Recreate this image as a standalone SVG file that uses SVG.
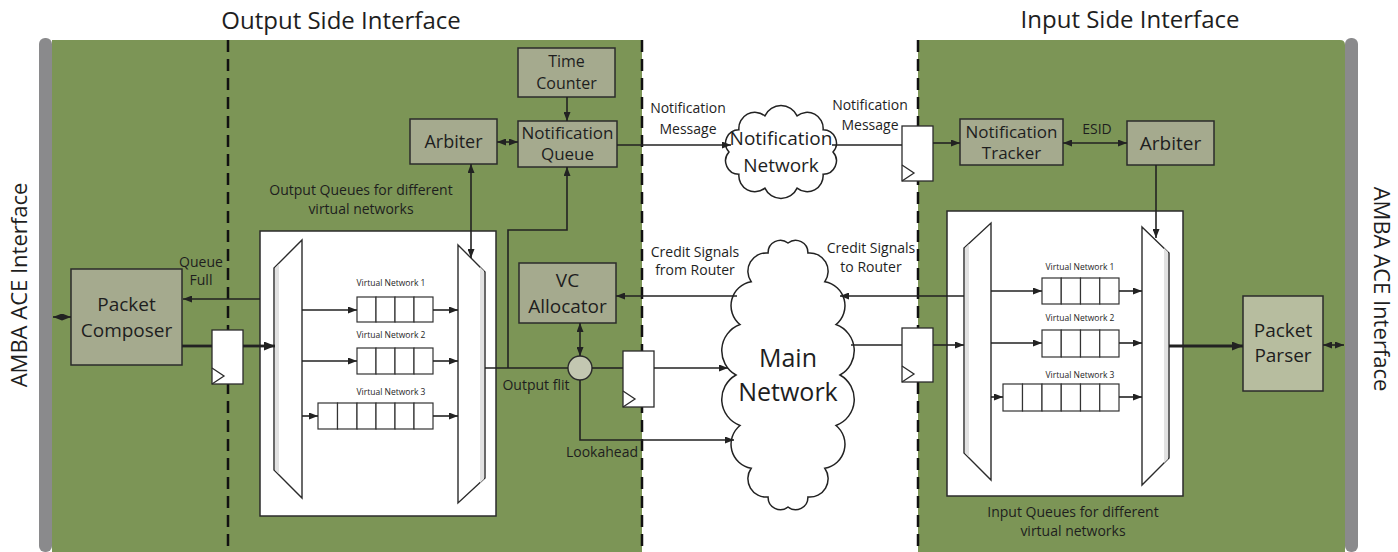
<svg xmlns="http://www.w3.org/2000/svg" width="1398" height="552" viewBox="0 0 1398 552">
  <defs>
    <style>
      text { font-family: "Open Sans", "Noto Sans", "DejaVu Sans", sans-serif; fill: #1e1e1e; }
      .title { font-size: 24px; text-anchor: middle; }
      .side { font-size: 22px; text-anchor: middle; }
      .blk { fill: #a5aa8e; stroke: #2b2b2b; stroke-width: 1.5; }
      .blk2 { fill: #b7bd9f; stroke: #2b2b2b; stroke-width: 1.5; }
      .blk-t { font-size: 17px; text-anchor: middle; }
      .big-t { font-size: 19px; text-anchor: middle; }
      .lbl { font-size: 14px; text-anchor: middle; }
      .vn { font-size: 8.5px; text-anchor: middle; }
      .panel { fill: #ffffff; stroke: #2b2b2b; stroke-width: 1.5; }
      .cell { fill: #ffffff; stroke: #333333; stroke-width: 1.2; }
      .mux { fill: #ffffff; stroke: #2b2b2b; stroke-width: 1.4; }
      .shade { fill: #e2e2e2; stroke: none; }
      .reg { fill: #ffffff; stroke: #2b2b2b; stroke-width: 1.3; }
      .clk { fill: none; stroke: #2b2b2b; stroke-width: 1.3; }
      .cloud { fill: #ffffff; stroke: #222222; stroke-width: 1.5; }
      .w { fill: none; stroke: #222222; stroke-width: 1.6; }
      .wb { fill: none; stroke: #222222; stroke-width: 2.8; }
      .dash { stroke: #111111; stroke-width: 2.5; stroke-dasharray: 12 7; }
      .bar { fill: #8a8a8c; }
      .zone { fill: #7c9556; }
    </style>
    <marker id="ah" viewBox="0 0 9 7" refX="9" refY="3.5" markerWidth="9" markerHeight="7" markerUnits="userSpaceOnUse" orient="auto-start-reverse">
      <path d="M0,0 L9,3.5 L0,7 z" fill="#222222"/>
    </marker>
    <marker id="ahb" viewBox="0 0 11 9" refX="11" refY="4.5" markerWidth="11" markerHeight="9" markerUnits="userSpaceOnUse" orient="auto-start-reverse">
      <path d="M0,0 L11,4.5 L0,9 z" fill="#222222"/>
    </marker>
  </defs>

  <!-- background zones -->
  <g id="zones">
    <rect class="zone" x="52" y="40" width="590" height="512"/>
    <path class="zone" d="M918,40 H1340 Q1345,40 1345,45 V552 H918 Z"/>
    <rect class="bar" x="39" y="38" width="13" height="514" rx="6"/>
    <rect class="bar" x="1345" y="38" width="13" height="514" rx="6"/>
    <line class="dash" x1="228" y1="40" x2="228" y2="552"/>
    <line class="dash" x1="642" y1="40" x2="642" y2="552"/>
    <line class="dash" x1="918" y1="40" x2="918" y2="552"/>
  </g>

  <!-- headings -->
  <g id="headings">
    <text class="title" x="341" y="29">Output Side Interface</text>
    <text class="title" x="1130" y="28">Input Side Interface</text>
    <text class="side" transform="translate(27,285) rotate(-90)">AMBA ACE Interface</text>
    <text class="side" transform="translate(1374,289) rotate(90)">AMBA ACE Interface</text>
  </g>

  <!-- output side queues -->
  <g id="out-queues">
    <rect class="panel" x="260" y="231" width="236" height="285"/>
    <polygon class="mux" points="302,240 302,498 274,470 274,268"/>
    <polygon class="shade" points="275,268 279,264 279,474 275,470"/>
    <polygon class="mux" points="458,245 485,272 485,478 458,503"/>
    <polygon class="shade" points="480,267 484,271 484,479 480,483"/>
    <text class="vn" x="391" y="286">Virtual Network 1</text>
    <g>
      <rect class="cell" x="357" y="297" width="19" height="25"/>
      <rect class="cell" x="376" y="297" width="19" height="25"/>
      <rect class="cell" x="395" y="297" width="19" height="25"/>
      <rect class="cell" x="414" y="297" width="19" height="25"/>
    </g>
    <text class="vn" x="391" y="338">Virtual Network 2</text>
    <g>
      <rect class="cell" x="357" y="348" width="19" height="26"/>
      <rect class="cell" x="376" y="348" width="19" height="26"/>
      <rect class="cell" x="395" y="348" width="19" height="26"/>
      <rect class="cell" x="414" y="348" width="19" height="26"/>
    </g>
    <text class="vn" x="391" y="395">Virtual Network 3</text>
    <g>
      <rect class="cell" x="318" y="403" width="19.5" height="26"/>
      <rect class="cell" x="337.5" y="403" width="19.5" height="26"/>
      <rect class="cell" x="357" y="403" width="19" height="26"/>
      <rect class="cell" x="376" y="403" width="19" height="26"/>
      <rect class="cell" x="395" y="403" width="19" height="26"/>
      <rect class="cell" x="414" y="403" width="19" height="26"/>
    </g>
    <text class="lbl" x="361" y="195">Output Queues for different</text>
    <text class="lbl" x="361" y="214">virtual networks</text>
  </g>

  <!-- input side queues -->
  <g id="in-queues">
    <rect class="panel" x="947" y="211" width="236" height="285"/>
    <polygon class="mux" points="991,223 991,480 964,453 964,248"/>
    <polygon class="shade" points="965,248 969,244 969,457 965,453"/>
    <polygon class="mux" points="1142,227 1169,253 1169,458 1142,485"/>
    <polygon class="shade" points="1164,248 1168,252 1168,459 1164,463"/>
    <text class="vn" x="1080" y="270">Virtual Network 1</text>
    <g>
      <rect class="cell" x="1042" y="278" width="19.25" height="26"/>
      <rect class="cell" x="1061.25" y="278" width="19.25" height="26"/>
      <rect class="cell" x="1080.5" y="278" width="19.25" height="26"/>
      <rect class="cell" x="1099.75" y="278" width="19.25" height="26"/>
    </g>
    <text class="vn" x="1080" y="321">Virtual Network 2</text>
    <g>
      <rect class="cell" x="1042" y="330" width="19.25" height="27"/>
      <rect class="cell" x="1061.25" y="330" width="19.25" height="27"/>
      <rect class="cell" x="1080.5" y="330" width="19.25" height="27"/>
      <rect class="cell" x="1099.75" y="330" width="19.25" height="27"/>
    </g>
    <text class="vn" x="1080" y="378">Virtual Network 3</text>
    <g>
      <rect class="cell" x="1003" y="384" width="19.5" height="27"/>
      <rect class="cell" x="1022.5" y="384" width="19.5" height="27"/>
      <rect class="cell" x="1042" y="384" width="19.25" height="27"/>
      <rect class="cell" x="1061.25" y="384" width="19.25" height="27"/>
      <rect class="cell" x="1080.5" y="384" width="19.25" height="27"/>
      <rect class="cell" x="1099.75" y="384" width="19.25" height="27"/>
    </g>
    <text class="lbl" x="1073" y="517">Input Queues for different</text>
    <text class="lbl" x="1073" y="536">virtual networks</text>
  </g>

  <!-- blocks -->
  <g id="packet-composer">
    <rect class="blk" x="71" y="269" width="111" height="96"/>
    <text class="big-t" x="126.5" y="311">Packet</text>
    <text class="big-t" x="126.5" y="337">Composer</text>
  </g>
  <g id="time-counter">
    <rect class="blk" x="518" y="48" width="97" height="49"/>
    <text class="lbl" style="font-size:16px" x="566.5" y="67">Time</text>
    <text class="lbl" style="font-size:16px" x="566.5" y="89">Counter</text>
  </g>
  <g id="notification-queue">
    <rect class="blk" x="518" y="121" width="99" height="46"/>
    <text class="blk-t" x="567.5" y="139">Notification</text>
    <text class="blk-t" x="567.5" y="160">Queue</text>
  </g>
  <g id="arbiter-out">
    <rect class="blk" x="410" y="119" width="87" height="45"/>
    <text class="blk-t" style="font-size:18px" x="453.5" y="148">Arbiter</text>
  </g>
  <g id="vc-allocator">
    <rect class="blk" x="519" y="263" width="97" height="60"/>
    <text class="big-t" x="567.5" y="287">VC</text>
    <text class="big-t" x="567.5" y="313">Allocator</text>
  </g>
  <g id="merge">
    <circle cx="580" cy="368" r="12" fill="#c3c7b1" stroke="#2b2b2b" stroke-width="1.4"/>
  </g>
  <g id="notification-tracker">
    <rect class="blk" x="960" y="119" width="103" height="46"/>
    <text class="blk-t" x="1011.5" y="138">Notification</text>
    <text class="blk-t" x="1011.5" y="159">Tracker</text>
  </g>
  <g id="arbiter-in">
    <rect class="blk" x="1127" y="121" width="87" height="44"/>
    <text class="blk-t" style="font-size:19px" x="1170.5" y="150">Arbiter</text>
  </g>
  <g id="packet-parser">
    <rect class="blk2" x="1243" y="296" width="80" height="95"/>
    <text class="big-t" x="1283" y="337">Packet</text>
    <text class="big-t" x="1283" y="362">Parser</text>
  </g>

  <!-- pipeline registers -->
  <g id="reg-composer">
    <rect class="reg" x="212" y="330" width="31" height="54"/>
    <polyline class="clk" points="212,368 224,376 212,384"/>
  </g>
  <g id="reg-out">
    <rect class="reg" x="623" y="351" width="31" height="56"/>
    <polyline class="clk" points="623,391 635,399 623,407"/>
  </g>
  <g id="reg-in">
    <rect class="reg" x="902" y="328" width="31" height="54"/>
    <polyline class="clk" points="902,366 914,374 902,382"/>
  </g>
  <g id="reg-notify">
    <rect class="reg" x="902" y="126" width="31" height="55"/>
    <polyline class="clk" points="902,165 914,173 902,181"/>
  </g>

  <!-- networks -->
  <g id="notification-network">
    <path class="cloud" d="M833,152 A13.4,13.4 0 0 1 823.1,174.3 A16,16 0 0 1 797.1,188.1 A17.7,17.7 0 0 1 764.9,188.1 A16,16 0 0 1 738.9,174.3 A13.4,13.4 0 0 1 729,152 A13.4,13.4 0 0 1 738.9,129.7 A16,16 0 0 1 764.9,115.9 A17.7,17.7 0 0 1 797.1,115.9 A16,16 0 0 1 823.1,129.7 A13.4,13.4 0 0 1 833,152 Z"/>
    <text class="big-t" x="781" y="145">Notification</text>
    <text class="big-t" x="781" y="172">Network</text>
  </g>
  <g id="main-network">
    <path class="cloud" d="M840,375 A27.9,27.9 0 0 1 836,425.5 A24.3,24.3 0 0 1 824.8,468.3 A18.3,18.3 0 0 1 807.9,497 A12.3,12.3 0 0 1 788,507 A12.3,12.3 0 0 1 768.1,497 A18.3,18.3 0 0 1 751.2,468.3 A24.3,24.3 0 0 1 740,425.5 A27.9,27.9 0 0 1 736,375 A27.9,27.9 0 0 1 740,324.5 A24.3,24.3 0 0 1 751.2,281.7 A18.3,18.3 0 0 1 768.1,253 A12.3,12.3 0 0 1 788,243 A12.3,12.3 0 0 1 807.9,253 A18.3,18.3 0 0 1 824.8,281.7 A24.3,24.3 0 0 1 836,324.5 A27.9,27.9 0 0 1 840,375 Z"/>
    <text class="big-t" style="font-size:25px" x="788" y="367">Main</text>
    <text class="big-t" style="font-size:25px" x="788" y="401">Network</text>
  </g>

  <!-- connectors -->
  <g id="connectors">
    <!-- AMBA <-> composer / parser -->
    <line class="w" x1="53" y1="317" x2="71" y2="317" marker-start="url(#ah)" marker-end="url(#ah)"/>
    <line class="w" x1="1323" y1="345" x2="1344" y2="345" marker-start="url(#ah)" marker-end="url(#ah)"/>
    <!-- queue full -->
    <line class="w" x1="260" y1="299" x2="183" y2="299" marker-end="url(#ah)"/>
    <!-- composer -> register -> demux -->
    <line class="wb" x1="182" y1="346" x2="212" y2="346"/>
    <line class="wb" x1="243" y1="346" x2="275" y2="346" marker-end="url(#ahb)"/>
    <!-- output demux to queues -->
    <line class="w" x1="302" y1="310" x2="357" y2="310" marker-end="url(#ah)"/>
    <line class="w" x1="302" y1="361" x2="357" y2="361" marker-end="url(#ah)"/>
    <line class="w" x1="302" y1="416" x2="318" y2="416" marker-end="url(#ah)"/>
    <line class="w" x1="433" y1="310" x2="458" y2="310" marker-end="url(#ah)"/>
    <line class="w" x1="433" y1="361" x2="458" y2="361" marker-end="url(#ah)"/>
    <line class="w" x1="433" y1="416" x2="458" y2="416" marker-end="url(#ah)"/>
    <!-- arbiter / notification queue -->
    <line class="w" x1="497" y1="142" x2="518" y2="142" marker-start="url(#ah)" marker-end="url(#ah)"/>
    <line class="w" x1="567" y1="97" x2="567" y2="121" marker-end="url(#ah)"/>
    <line class="w" x1="471" y1="164" x2="471" y2="258" marker-start="url(#ah)" marker-end="url(#ah)"/>
    <!-- output flit path -->
    <line class="w" x1="485" y1="368" x2="568" y2="368"/>
    <polyline class="w" points="508,368 508,230 567,230 567,167" marker-end="url(#ah)"/>
    <line class="w" x1="580" y1="323" x2="580" y2="356" marker-start="url(#ah)" marker-end="url(#ah)"/>
    <line class="w" x1="592" y1="368" x2="623" y2="368"/>
    <line class="w" x1="654" y1="368" x2="728" y2="368" marker-end="url(#ah)"/>
    <polyline class="w" points="580,380 580,440 734,440" marker-end="url(#ah)"/>
    <!-- credits -->
    <line class="w" x1="737" y1="296" x2="616" y2="296" marker-end="url(#ah)"/>
    <line class="w" x1="964" y1="296" x2="840" y2="296" marker-end="url(#ah)"/>
    <!-- main network -> input side -->
    <line class="w" x1="851" y1="345" x2="902" y2="345"/>
    <line class="w" x1="933" y1="345" x2="964" y2="345" marker-end="url(#ah)"/>
    <!-- input demux to queues -->
    <line class="w" x1="991" y1="291" x2="1042" y2="291" marker-end="url(#ah)"/>
    <line class="w" x1="991" y1="343" x2="1042" y2="343" marker-end="url(#ah)"/>
    <line class="w" x1="991" y1="397" x2="1003" y2="397" marker-end="url(#ah)"/>
    <line class="w" x1="1119" y1="291" x2="1142" y2="291" marker-end="url(#ah)"/>
    <line class="w" x1="1119" y1="343" x2="1142" y2="343" marker-end="url(#ah)"/>
    <line class="w" x1="1119" y1="397" x2="1142" y2="397" marker-end="url(#ah)"/>
    <line class="wb" x1="1169" y1="346" x2="1243" y2="346" marker-end="url(#ahb)"/>
    <!-- notification path -->
    <line class="w" x1="617" y1="145" x2="731" y2="145" marker-end="url(#ah)"/>
    <line class="w" x1="832" y1="145" x2="902" y2="145"/>
    <line class="w" x1="933" y1="143" x2="960" y2="143" marker-end="url(#ah)"/>
    <line class="w" x1="1063" y1="143" x2="1127" y2="143" marker-start="url(#ah)" marker-end="url(#ah)"/>
    <line class="w" x1="1156" y1="165" x2="1156" y2="238" marker-end="url(#ah)"/>
  </g>

  <!-- connector labels -->
  <g id="labels">
    <text class="lbl" x="201" y="267">Queue</text>
    <text class="lbl" x="201" y="285">Full</text>
    <text class="lbl" x="536" y="390">Output flit</text>
    <text class="lbl" x="602" y="457">Lookahead</text>
    <text class="lbl" x="688" y="113">Notification</text>
    <text class="lbl" x="688" y="134">Message</text>
    <text class="lbl" x="870" y="110">Notification</text>
    <text class="lbl" x="870" y="130">Message</text>
    <text class="lbl" x="695" y="257">Credit Signals</text>
    <text class="lbl" x="695" y="275">from Router</text>
    <text class="lbl" x="871" y="253">Credit Signals</text>
    <text class="lbl" x="871" y="272">to Router</text>
    <text class="lbl" x="1097" y="134">ESID</text>
  </g>
</svg>
